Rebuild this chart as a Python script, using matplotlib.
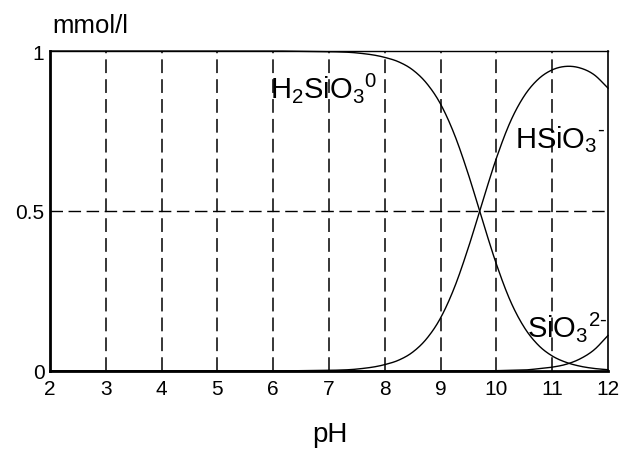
import matplotlib
matplotlib.use("Agg")
import matplotlib.pyplot as plt
import numpy as np

plt.rcParams['font.family'] = ['Liberation Sans', 'DejaVu Sans']
plt.rcParams['mathtext.default'] = 'regular'

# Values
ph = [2, 3, 4, 5, 6, 6.5, 7, 7.5, 8, 8.25, 8.5, 8.75, 9, 9.25, 9.5, 9.75,
      10, 10.25, 10.5, 10.75, 11, 11.25, 11.5, 11.75, 12]
h2sio3 = [1.0, 1.0, 1.0, 1.0, 1.0, 0.999, 0.998, 0.994, 0.980, 0.966, 0.941, 0.899,
          0.834, 0.738, 0.613, 0.471, 0.334, 0.219, 0.136, 0.081, 0.047, 0.027,
          0.015, 0.008, 0.004]
hsio3 = [0.0, 0.0, 0.0, 0.0, 0.0, 0.001, 0.002, 0.006, 0.020, 0.034, 0.059, 0.101,
         0.166, 0.262, 0.387, 0.528, 0.665, 0.779, 0.860, 0.912, 0.941, 0.952,
         0.947, 0.926, 0.884]
sio3 = [0.0, 0.0, 0.0, 0.0, 0.0, 0.0, 0.0, 0.0, 0.0, 0.0, 0.0, 0.0,
        0.0, 0.0, 0.0, 0.0, 0.001, 0.002, 0.003, 0.007, 0.012, 0.021,
        0.038, 0.066, 0.111]
xticks = [2, 3, 4, 5, 6, 7, 8, 9, 10, 11, 12]
yticks = [0, 0.5, 1]
yticklabels = ['0', '0.5', '1']


def smooth(x, y, n=20):
    # cubic Hermite through the read points
    x = np.asarray(x, float)
    y = np.asarray(y, float)
    m = np.gradient(y, x)
    xs, ys = [], []
    for i in range(len(x) - 1):
        h = x[i + 1] - x[i]
        t = np.linspace(0, 1, n, endpoint=False)
        h00 = 2 * t**3 - 3 * t**2 + 1
        h10 = t**3 - 2 * t**2 + t
        h01 = -2 * t**3 + 3 * t**2
        h11 = t**3 - t**2
        xs.append(x[i] + t * h)
        ys.append(h00 * y[i] + h10 * h * m[i] + h01 * y[i + 1] + h11 * h * m[i + 1])
    xs.append([x[-1]])
    ys.append([y[-1]])
    return np.concatenate(xs), np.clip(np.concatenate(ys), 0, 1)


fig = plt.figure(figsize=(6.3, 4.52), dpi=100)
ax = fig.add_axes([50 / 630, 1 - 372 / 452, 558 / 630, 320 / 452])

for xv in xticks[1:-1]:
    ax.axvline(xv, color='black', lw=1.1, ls=(0, (9, 4)), zorder=1)
ax.axhline(0.5, color='black', lw=1.0, ls=(0, (9, 4)), zorder=1)

for series in (h2sio3, hsio3, sio3):
    xs, ys = smooth(ph, series)
    ax.plot(xs, ys, color='black', lw=1.0, zorder=3, clip_on=False)

ax.set_xlim(2, 12)
ax.set_ylim(0, 1)
ax.set_xticks(xticks)
ax.set_xticklabels([str(v) for v in xticks])
ax.set_yticks(yticks)
ax.set_yticklabels(yticklabels)
ax.tick_params(length=0, labelsize=15)
ax.tick_params(axis='x', pad=6)
ax.tick_params(axis='y', pad=4)

ax.spines['left'].set_linewidth(2.0)
ax.spines['bottom'].set_linewidth(2.0)
ax.spines['top'].set_linewidth(1.0)
ax.spines['right'].set_linewidth(1.2)

ax.text(5.94, 0.855, 'H$_2$SiO$_3$$^0$', fontsize=21, ha='left', va='baseline')
ax.text(10.33, 0.70, 'HSiO$_3$$^{\u2010}$', fontsize=21, ha='left', va='baseline')
ax.text(10.55, 0.11, 'SiO$_3$$^{2\u2010}$', fontsize=21, ha='left', va='baseline')

fig.text(52 / 630, 1 - 33 / 452, 'mmol/l', fontsize=18.5, ha='left', va='baseline')
fig.text(330 / 630, 1 - 442 / 452, 'pH', fontsize=20, ha='center', va='baseline')

fig.savefig('out.png', dpi=100)
